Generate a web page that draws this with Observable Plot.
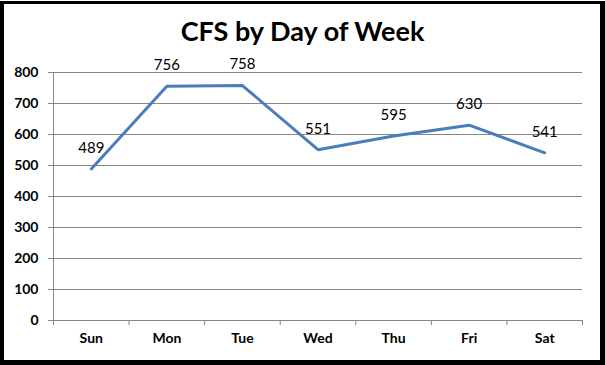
<!DOCTYPE html>
<html>
<head>
<meta charset="utf-8">
<script src="https://cdn.jsdelivr.net/npm/d3@7"></script>
<script src="https://cdn.jsdelivr.net/npm/@observablehq/plot@0.6"></script>
<style>
  html, body { margin: 0; padding: 0; background: #fff; }
  #wrap { position: relative; width: 605px; height: 365px; overflow: hidden; background: #fff; }
  #chart { position: absolute; left: 0; top: 0; }
  #title { position: absolute; left: 0; width: 605px; top: 14px; text-align: center;
           font-family: Lato, "Open Sans", sans-serif; font-weight: bold; font-size: 27px; color: #000; }
  #frame { position: absolute; left: 0; top: 1px; width: 605px; height: 364px; box-sizing: border-box;
           border-style: solid; border-color: #000; border-width: 3px 5px 5px 4px; pointer-events: none; }
</style>
</head>
<body>
<div id="wrap">
  <div id="chart"></div>
  <div id="title">CFS by Day of Week</div>
  <div id="frame"></div>
</div>
<script>
const days = ["Sun", "Mon", "Tue", "Wed", "Thu", "Fri", "Sat"];
const cfs = [489, 756, 758, 551, 595, 630, 541];
const yTicks = [0, 100, 200, 300, 400, 500, 600, 700, 800];

const idx = days.map((d, i) => i);
const data = days.map((d, i) => ({ i, day: d, v: cfs[i] }));
const bounds = [-0.5, ...idx.map(i => i + 0.5)];
const grid = "#868686";

const chart = Plot.plot({
  width: 605,
  height: 365,
  marginLeft: 53,
  marginRight: 23,
  marginTop: 72,
  marginBottom: 45,
  style: { fontFamily: "Lato, 'Open Sans', sans-serif", background: "transparent", color: "#000" },
  x: { type: "linear", domain: [-0.5, days.length - 0.5] },
  y: { domain: [0, 800] },
  marks: [
    Plot.gridY(yTicks, { stroke: grid, strokeOpacity: 1, strokeWidth: 1 }),
    Plot.ruleX([-0.5], { stroke: grid, strokeWidth: 1 }),
    Plot.axisY({ ticks: yTicks, tickSize: 5, tickPadding: 10, stroke: grid, fill: "#000", label: null,
                 fontWeight: "bold", fontSize: 14, tickFormat: d => String(d) }),
    Plot.axisX({ ticks: bounds, tickSize: 5, stroke: grid, label: null, tickFormat: () => "" }),
    Plot.axisX({ ticks: idx, tickSize: 0, tickPadding: 13, fill: "#000", label: null,
                 fontWeight: "bold", fontSize: 14, tickFormat: i => days[i] }),
    Plot.line(data, { x: "i", y: "v", stroke: "#4a7ebb", strokeWidth: 3, strokeLinejoin: "miter" }),
    Plot.text(data, { x: "i", y: "v", text: d => String(d.v), dy: -21, fontSize: 15, fill: "#000" })
  ]
});
document.getElementById("chart").appendChild(chart);
</script>
</body>
</html>
